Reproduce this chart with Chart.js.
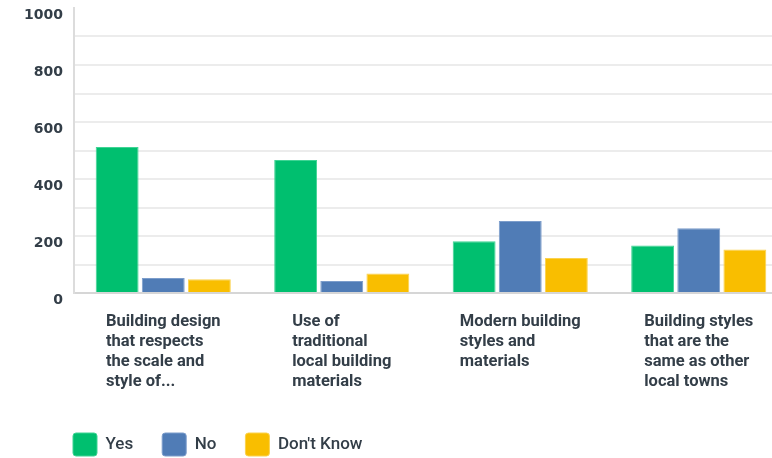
<!DOCTYPE html>
<html>
<head>
<meta charset="utf-8">
<script src="https://cdn.jsdelivr.net/npm/chart.js@4/dist/chart.umd.min.js"></script>
<style>
  html, body { margin: 0; padding: 0; background: #fff; overflow: hidden; }
  /* область графика в оригинале шире кадра и обрезана справа */
  #wrap { width: 788px; height: 458px; }
</style>
</head>
<body>
<div id="wrap"><canvas id="chart"></canvas></div>
<script>
// данные
const categories = [
    ['Building design', 'that respects', 'the scale and', 'style of...'],
    ['Use of', 'traditional', 'local building', 'materials'],
    ['Modern building', 'styles and', 'materials'],
    ['Building styles', 'that are the', 'same as other', 'local towns']
];
const yesValues = [512, 467, 182, 167];
const noValues = [53, 42, 253, 227];
const dontKnowValues = [48, 68, 123, 153];
const seriesNames = ['Yes', 'No', "Don't Know"];
const yTicks = [0, 200, 400, 600, 800, 1000];

const textColor = '#333e48';

// подписи категорий: блок по центру, строки выровнены влево
const categoryLabels = {
    id: 'categoryLabels',
    afterDraw(chart) {
        const ctx = chart.ctx;
        const xScale = chart.scales.x;
        ctx.save();
        ctx.font = 'bold 16.5px Roboto';
        ctx.fillStyle = textColor;
        ctx.textAlign = 'left';
        ctx.textBaseline = 'alphabetic';
        chart.data.labels.forEach((lines, i) => {
            const cx = xScale.getPixelForValue(i);
            const maxW = Math.max(...lines.map(l => ctx.measureText(l).width));
            const left = cx - maxW / 2;
            lines.forEach((line, j) => {
                ctx.fillText(line, left, xScale.top + 33 + j * 20);
            });
        });
        ctx.restore();
    }
};

// сдвиг легенды вправо
const legendShift = {
    id: 'legendShift',
    afterLayout(chart) {
        if (chart.legend) {
            chart.legend.left += 44;
        }
    }
};

new Chart(document.getElementById('chart'), {
    type: 'bar',
    data: {
        labels: categories,
        datasets: [
            { label: seriesNames[0], data: yesValues, backgroundColor: '#00bf6f', borderColor: '#3fd494', borderWidth: 1 },
            { label: seriesNames[1], data: noValues, backgroundColor: '#507cb6', borderColor: '#7c9dcb', borderWidth: 1 },
            { label: seriesNames[2], data: dontKnowValues, backgroundColor: '#f9be00', borderColor: '#fbd24f', borderWidth: 1 }
        ]
    },
    options: {
        responsive: true,
        maintainAspectRatio: false,
        animation: false,
        categoryPercentage: 0.775,
        barPercentage: 0.93,
        layout: { padding: { left: 0, right: 0, top: 0, bottom: -8 } },
        plugins: {
            tooltip: { enabled: false },
            legend: {
                position: 'bottom',
                align: 'start',
                labels: {
                    boxWidth: 24,
                    boxHeight: 23,
                    useBorderRadius: true,
                    borderRadius: 3,
                    padding: 29,
                    color: textColor,
                    font: { family: 'Roboto', size: 17, weight: '500' }
                }
            }
        },
        scales: {
            x: {
                grid: { color: 'transparent', drawTicks: false },
                border: { color: '#d6d6d6', width: 2 },
                ticks: { display: false },
                afterFit(scale) { scale.height = 111; }
            },
            y: {
                min: 0,
                max: 1000,
                ticks: {
                    stepSize: 100,
                    padding: 11,
                    labelOffset: 7,
                    color: textColor,
                    font: { family: 'DejaVu Sans', size: 14, weight: 'bold', lineHeight: 1 },
                    callback: v => yTicks.includes(v) ? String(v) : ''
                },
                grid: {
                    drawTicks: false,
                    color: ctx => ctx.tick && ctx.tick.value === 1000 ? 'transparent' : '#ececec',
                    lineWidth: 2
                },
                border: { color: '#dcdcdc', width: 2 },
                afterFit(scale) {
                    scale.width = 74;
                    scale.paddingTop = 8;
                    scale.paddingBottom = 0;
                }
            }
        }
    },
    plugins: [categoryLabels, legendShift]
});
</script>
</body>
</html>
